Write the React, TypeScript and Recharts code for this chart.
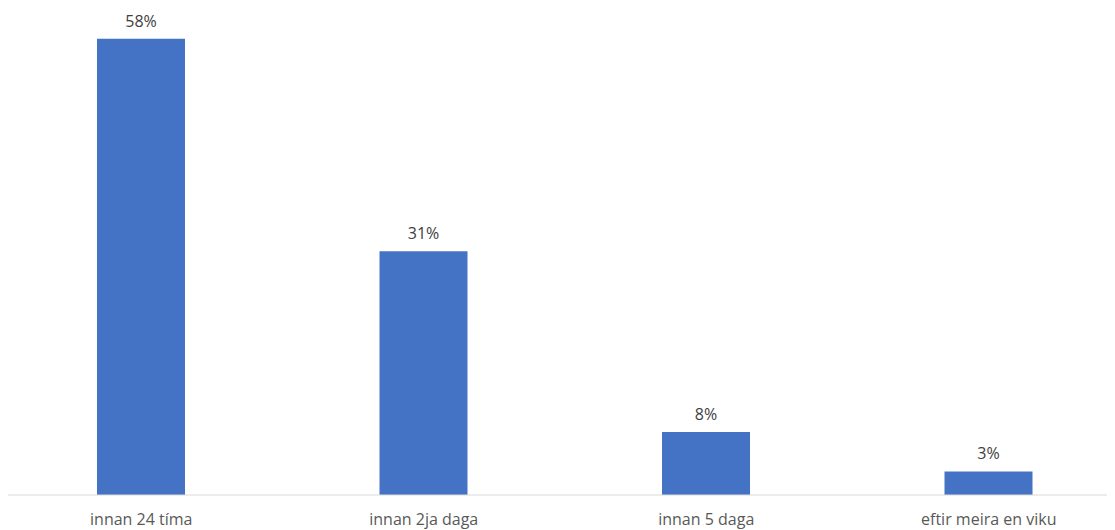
import { Bar, BarChart, LabelList, XAxis, YAxis } from "recharts";

const categories = ["innan 24 tíma", "innan 2ja daga", "innan 5 daga", "eftir meira en viku"];
const shares = [58, 31, 8, 3];
const shareLabels = ["58%", "31%", "8%", "3%"];

const data = categories.map((name, i) => ({
  name,
  value: shares[i],
  label: shareLabels[i],
}));

const FONT = "'Open Sans', sans-serif";

export default function App() {
  return (
    <div style={{ margin: "-8px 0 0 -8px", width: 1115, height: 530, overflow: "hidden", background: "#fff" }}>
      <BarChart
        width={1130}
        height={530}
        data={data}
        margin={{ top: 23, right: 0, bottom: 0, left: 0 }}
        barSize={88}
      >
        <XAxis
          dataKey="name"
          height={35}
          tickLine={false}
          tickMargin={13}
          axisLine={{ stroke: "#d9d9d9", strokeWidth: 1 }}
          tick={{ fill: "#595959", fontSize: 16, fontFamily: FONT }}
          interval={0}
        />
        <YAxis hide domain={[0, 60]} />
        <Bar dataKey="value" fill="#4472c4" isAnimationActive={false}>
          <LabelList
            dataKey="label"
            position="top"
            offset={12}
            fill="#404040"
            fontSize={16}
            fontFamily={FONT}
          />
        </Bar>
      </BarChart>
    </div>
  );
}
